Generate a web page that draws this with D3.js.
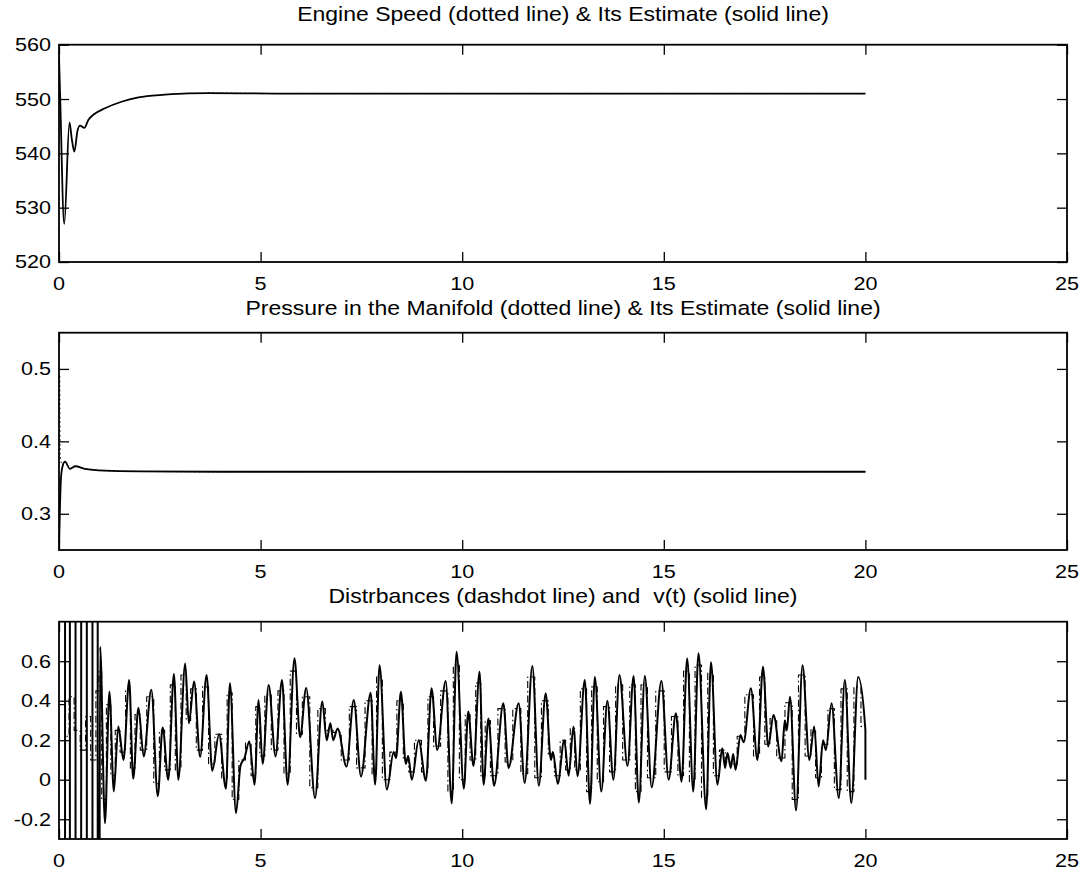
<!DOCTYPE html>
<html>
<head>
<meta charset="utf-8">
<script src="https://cdn.jsdelivr.net/npm/d3@7"></script>
<style>
  body { margin: 0; background: #fff; }
  svg { display: block; }
  text { white-space: pre; }
</style>
</head>
<body>
<svg id="fig" width="1089" height="873"></svg>
<script>
// ---- data ----------------------------------------------------------------
const timeTicks = [0, 5, 10, 15, 20, 25];
const speedTicks = [520, 530, 540, 550, 560];
const pressureTicks = [0.3, 0.4, 0.5];
const disturbanceTicks = [-0.2, 0, 0.2, 0.4, 0.6];

const titles = [
  "Engine Speed (dotted line) & Its Estimate (solid line)",
  "Pressure in the Manifold (dotted line) & Its Estimate (solid line)",
  "Distrbances (dashdot line) and  v(t) (solid line)"
];

// estimated engine speed [t, rpm]
const speedEstimate = [
  [0, 558], [0.03, 550], [0.13, 527], [0.26, 545.7], [0.32, 542.5], [0.38, 540.3],
  [0.46, 544.2], [0.52, 545.1], [0.63, 544.7], [0.73, 546.2], [0.85, 547.1],
  [1.14, 548.3], [1.55, 549.5], [1.97, 550.3], [2.63, 550.8], [3.2, 551.05],
  [3.7, 551.1], [5.4, 551.0], [10, 551.0], [15, 551.0], [20, 551.0]
];
// measured engine speed [t, rpm]
const speedMeasured = [
  [3.7, 551.1], [5.4, 551.0], [10, 551.0], [15, 551.0], [20, 551.0]
];

// estimated manifold pressure [t, p]
const pressureEstimate = [
  [0, 0.25], [0.02, 0.30], [0.05, 0.35], [0.09, 0.366], [0.15, 0.372], [0.27, 0.362],
  [0.41, 0.3656], [0.64, 0.362], [1.14, 0.3595], [1.97, 0.3585], [4, 0.358],
  [10, 0.358], [20, 0.358]
];
// measured manifold pressure [t, p]
const pressureMeasured = [
  [0.02, 0.49], [0.03, 0.38], [0.09, 0.366], [0.15, 0.372], [0.27, 0.362],
  [0.41, 0.3656], [0.64, 0.362], [1.14, 0.3595], [1.97, 0.3585], [4, 0.358],
  [10, 0.358], [20, 0.358]
];

// v(t) [t, value]
const vEstimate = [
  [0.000, 8], [0.149, 8], [0.151, -8], [0.269, -8], [0.271, 8], [0.409, 8],
  [0.411, -8], [0.549, -8], [0.551, 8], [0.689, 8], [0.691, -8], [0.829, -8],
  [0.831, 8], [0.959, 8], [0.961, -8],
  [1.02, 0.673], [1.14, -0.22], [1.25, 0.446], [1.36, -0.059], [1.47, 0.27],
  [1.6, 0.1], [1.74, 0.505], [1.84, 0.005], [1.97, 0.365], [2.1, 0.118],
  [2.29, 0.455], [2.45, -0.084], [2.57, 0.265], [2.71, 0.0], [2.85, 0.535],
  [2.96, 0.0], [3.13, 0.589], [3.22, 0.286], [3.35, 0.497], [3.5, 0.115],
  [3.66, 0.53], [3.8, 0.045], [3.97, 0.23], [4.14, -0.045], [4.24, 0.488],
  [4.39, -0.168], [4.5, 0.07], [4.6, 0.11], [4.72, 0.194], [4.85, -0.025],
  [4.95, 0.404], [5.05, 0.08], [5.2, 0.48], [5.37, 0.118], [5.53, 0.505],
  [5.67, -0.025], [5.84, 0.615], [5.98, 0.215], [6.13, 0.465], [6.35, -0.093],
  [6.53, 0.396], [6.64, 0.2], [6.73, 0.286], [6.8, 0.2], [6.91, 0.26],
  [7.13, 0.067], [7.31, 0.404], [7.49, 0.017], [7.73, 0.44], [7.84, -0.025],
  [7.95, 0.58], [8.13, -0.05], [8.3, 0.14], [8.36, 0.11], [8.48, 0.445],
  [8.6, 0.08], [8.66, 0.12], [8.75, 0.0], [8.92, 0.2], [9.1, -0.005],
  [9.24, 0.463], [9.38, 0.15], [9.59, 0.5], [9.74, -0.12], [9.86, 0.648],
  [10.04, -0.045], [10.15, 0.345], [10.28, 0.07], [10.43, 0.547], [10.53, -0.025],
  [10.65, 0.31], [10.79, -0.03], [11.02, 0.387], [11.15, 0.06], [11.4, 0.387],
  [11.55, -0.017], [11.74, 0.576], [11.9, -0.03], [12.07, 0.438], [12.2, 0.1],
  [12.25, 0.14], [12.37, -0.02], [12.53, 0.2], [12.64, 0.02], [12.76, 0.27],
  [12.86, 0.017], [13.04, 0.505], [13.17, -0.122], [13.29, 0.52], [13.45, -0.06],
  [13.6, 0.4], [13.75, 0.0], [13.9, 0.53], [14.1, 0.07], [14.25, 0.525],
  [14.38, -0.115], [14.53, 0.525], [14.7, -0.038], [14.94, 0.5], [15.12, 0.0],
  [15.3, 0.337], [15.44, -0.01], [15.58, 0.614], [15.73, -0.06], [15.86, 0.64],
  [16.05, -0.15], [16.17, 0.595], [16.33, -0.025], [16.45, 0.16], [16.52, 0.06],
  [16.58, 0.135], [16.66, 0.06], [16.72, 0.13], [16.78, 0.05], [16.9, 0.227],
  [16.98, 0.19], [17.16, 0.463], [17.32, 0.1], [17.46, 0.572], [17.59, 0.168],
  [17.72, 0.328], [17.92, 0.093], [18.0, 0.3], [18.05, 0.25], [18.13, 0.42],
  [18.28, -0.155], [18.44, 0.58], [18.61, 0.1], [18.73, 0.27], [18.84, -0.034],
  [18.95, 0.2], [19.02, 0.15], [19.16, 0.387], [19.34, -0.093], [19.49, 0.505],
  [19.65, -0.118], [19.82, 0.52], [20.0, 0.25], [20.001, 0.0]
];

// disturbance [t, value]
const disturbance = [
  [0, 0.38], [0.12, 0.38], [0.2, 0.22], [0.3, 0.42], [0.45, 0.25], [0.6, 0.15],
  [0.72, 0.32], [0.85, 0.1], [0.98, 0.45],
  [1.0, 0.55], [1.12, -0.1], [1.23, 0.38], [1.34, 0.02], [1.45, 0.25], [1.58, 0.14],
  [1.72, 0.45], [1.82, 0.06], [1.95, 0.33], [2.08, 0.15], [2.27, 0.42], [2.43, -0.02],
  [2.55, 0.25], [2.69, 0.05], [2.83, 0.48], [2.94, 0.05], [3.11, 0.53], [3.2, 0.3],
  [3.33, 0.46], [3.48, 0.15], [3.64, 0.47], [3.78, 0.08], [3.95, 0.23], [4.12, 0.0],
  [4.22, 0.44], [4.37, -0.1], [4.55, 0.1], [4.7, 0.19], [4.83, 0.02], [4.93, 0.37],
  [5.03, 0.12], [5.18, 0.43], [5.35, 0.15], [5.51, 0.45], [5.65, 0.03], [5.82, 0.55],
  [5.96, 0.23], [6.11, 0.42], [6.33, -0.04], [6.51, 0.36], [6.7, 0.25], [6.89, 0.24],
  [7.11, 0.1], [7.29, 0.37], [7.47, 0.06], [7.71, 0.4], [7.82, 0.03], [7.93, 0.52],
  [8.11, 0.0], [8.3, 0.14], [8.46, 0.4], [8.62, 0.1], [8.73, 0.04], [8.9, 0.2],
  [9.08, 0.04], [9.22, 0.42], [9.36, 0.17], [9.57, 0.45], [9.72, -0.06], [9.84, 0.58],
  [10.02, 0.0], [10.13, 0.33], [10.26, 0.1], [10.41, 0.49], [10.51, 0.02], [10.63, 0.3],
  [10.77, 0.02], [11.0, 0.36], [11.13, 0.09], [11.38, 0.36], [11.53, 0.03], [11.72, 0.52],
  [11.88, 0.01], [12.05, 0.4], [12.22, 0.13], [12.35, 0.02], [12.51, 0.2], [12.62, 0.05],
  [12.74, 0.26], [12.84, 0.05], [13.02, 0.46], [13.15, -0.06], [13.27, 0.47], [13.43, -0.01],
  [13.58, 0.37], [13.73, 0.04], [13.88, 0.48], [14.08, 0.1], [14.23, 0.48], [14.36, -0.06],
  [14.51, 0.48], [14.68, 0.01], [14.92, 0.45], [15.1, 0.04], [15.28, 0.32], [15.42, 0.02],
  [15.56, 0.55], [15.71, -0.01], [15.84, 0.58], [16.03, -0.09], [16.15, 0.54], [16.31, 0.02],
  [16.45, 0.15], [16.6, 0.09], [16.76, 0.08], [16.88, 0.22], [17.14, 0.43], [17.31, 0.12],
  [17.44, 0.52], [17.57, 0.18], [17.7, 0.31], [17.9, 0.11], [18.11, 0.39], [18.26, -0.1],
  [18.42, 0.53], [18.59, 0.12], [18.71, 0.26], [18.82, 0.01], [19.0, 0.18], [19.14, 0.36],
  [19.32, -0.05], [19.47, 0.46], [19.63, -0.06], [19.8, 0.47], [19.98, 0.27]
];

// ---- layout --------------------------------------------------------------
const left = 59, right = 1067;
const panelTops = [44.7, 332.7, 621.7];
const panelHeight = 217.3;
const titleBaselines = [21, 315, 603];
const font = "'Liberation Sans', Arial, Helvetica, sans-serif";
const tickFontSize = 18, tickStretch = 1.2;
const titleFontSize = 20, titleStretch = 1.15;

const svg = d3.select("#fig");
const x = d3.scaleLinear().domain([0, 25]).range([left, right]);

const panels = [
  {
    domain: [520, 560], ticks: speedTicks, fmt: d => String(d),
    series: [
      { data: speedMeasured, width: 1.0, dash: "1.5,3", curve: d3.curveLinear },
      { data: speedEstimate, width: 1.8, dash: null, curve: d3.curveMonotoneX }
    ]
  },
  {
    domain: [0.25, 0.55], ticks: pressureTicks, fmt: d => d3.format(".1f")(d),
    series: [
      { data: pressureMeasured, width: 1.0, dash: "1.5,3", curve: d3.curveMonotoneX },
      { data: pressureEstimate, width: 1.8, dash: null, curve: d3.curveMonotoneX }
    ]
  },
  {
    domain: [-0.3, 0.8], ticks: disturbanceTicks,
    fmt: d => d === 0 ? "0" : d3.format(".1f")(d).replace("\u2212", "-"),
    series: [
      { data: disturbance, width: 1.1, dash: "7,3,1.5,3", curve: d3.curveStep },
      { data: vEstimate, width: 2.0, dash: null, curve: d3.curveMonotoneX }
    ]
  }
];

function stretchedText(g, x0, y0, str, size, sx, anchor, baseline) {
  const t = g.append("g")
    .attr("transform", `translate(${x0},${y0}) scale(${sx},1)`)
    .append("text")
    .attr("x", 0).attr("y", 0)
    .attr("font-family", font)
    .attr("font-size", size)
    .attr("fill", "#000")
    .attr("text-anchor", anchor)
    .text(str);
  if (baseline) t.attr("dy", baseline);
  return t;
}

panels.forEach((p, i) => {
  const top = panelTops[i], bottom = top + panelHeight;
  const y = d3.scaleLinear().domain(p.domain).range([bottom, top]);
  const g = svg.append("g");

  const clipId = "clip" + i;
  svg.append("clipPath").attr("id", clipId)
    .append("rect").attr("x", left).attr("y", top)
    .attr("width", right - left).attr("height", panelHeight);

  // data lines
  const plot = g.append("g").attr("clip-path", `url(#${clipId})`);
  p.series.forEach(s => {
    const line = d3.line().x(d => x(d[0])).y(d => y(d[1])).curve(s.curve);
    plot.append("path")
      .datum(s.data)
      .attr("d", line)
      .attr("fill", "none")
      .attr("stroke", "#000")
      .attr("stroke-width", s.width)
      .attr("stroke-linejoin", "round")
      .attr("stroke-dasharray", s.dash);
  });

  // inward ticks on all four sides
  const tickLen = 10;
  const axes = [
    [d3.axisBottom(x).tickValues(timeTicks), `translate(0,${bottom})`],
    [d3.axisTop(x).tickValues(timeTicks), `translate(0,${top})`],
    [d3.axisLeft(y).tickValues(p.ticks), `translate(${left},0)`],
    [d3.axisRight(y).tickValues(p.ticks), `translate(${right},0)`]
  ];
  axes.forEach(([ax, tr]) => {
    const a = g.append("g").attr("transform", tr)
      .call(ax.tickSizeInner(-tickLen).tickSizeOuter(0).tickFormat(() => ""));
    a.select(".domain").remove();
    a.selectAll(".tick line").attr("stroke", "#000").attr("stroke-width", 1.3);
  });

  // frame
  g.append("rect")
    .attr("x", left).attr("y", top)
    .attr("width", right - left).attr("height", panelHeight)
    .attr("fill", "none").attr("stroke", "#000").attr("stroke-width", 1.8);

  // tick labels
  timeTicks.forEach(t => {
    stretchedText(g, x(t), bottom + 28, String(t), tickFontSize, tickStretch, "middle");
  });
  p.ticks.forEach(v => {
    stretchedText(g, left - 8, y(v), p.fmt(v), tickFontSize, tickStretch, "end", "0.36em");
  });

  // title
  stretchedText(g, (left + right) / 2, titleBaselines[i], titles[i], titleFontSize, titleStretch, "middle");
});
</script>
</body>
</html>
